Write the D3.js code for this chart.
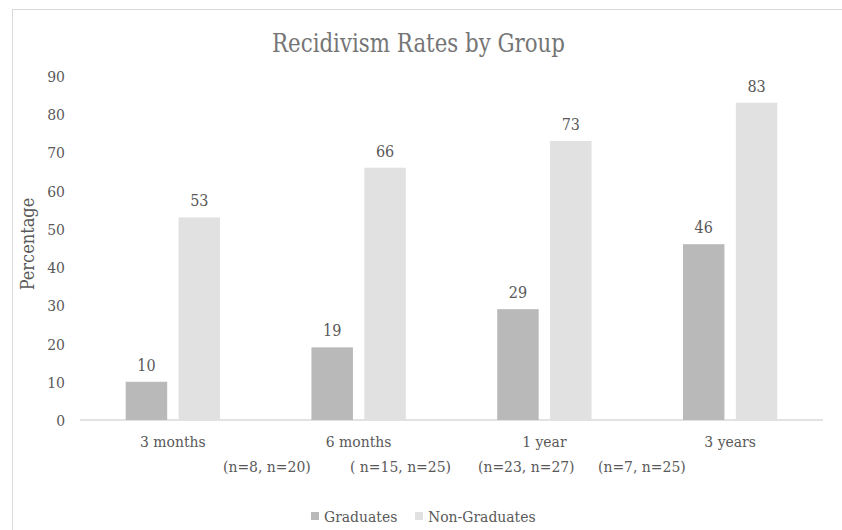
<!DOCTYPE html>
<html>
<head>
<meta charset="utf-8">
<script src="https://cdn.jsdelivr.net/npm/d3@7"></script>
<style>
body { margin: 0; background: #fff; }
svg text { font-family: "DejaVu Serif Condensed", "DejaVu Serif", serif; fill: #595959; }
</style>
</head>
<body>
<svg id="SvgContainer"></svg>
<script>
var categories = ["3 months", "6 months", "1 year", "3 years"];
var seriesNames = ["Graduates", "Non-Graduates"];
var graduates = [10, 19, 29, 46];
var nonGraduates = [53, 66, 73, 83];
var sampleLabels = ["(n=8, n=20)", "( n=15, n=25)", "(n=23, n=27)", "(n=7, n=25)"];
var yTicks = [0, 10, 20, 30, 40, 50, 60, 70, 80, 90];

function RunChart() {
    var width = 842;
    var height = 530;
    var colors = ["#b9b9b9", "#e1e1e1"];
    var labelSize = "15.5px";

    var svg = d3.select("svg")
        .attr("width", width)
        .attr("height", height);

    // chart area border
    svg.append("rect")
        .attr("x", 12.5)
        .attr("y", 9.5)
        .attr("width", 900)
        .attr("height", 600)
        .attr("fill", "none")
        .attr("stroke", "#d9d9d9");

    var x = d3.scaleBand()
        .domain(categories)
        .range([80, 823]);

    var xInner = d3.scaleBand()
        .domain(seriesNames)
        .range([45.7, x.bandwidth() - 45.7])
        .paddingInner(0.2155);

    var y = d3.scaleLinear()
        .domain([0, 90])
        .range([420, 76]);

    svg.append("text")
        .attr("x", 272)
        .attr("y", 52)
        .attr("textLength", 293)
        .attr("lengthAdjust", "spacingAndGlyphs")
        .style("font-size", "26px")
        .style("fill", "#757575")
        .text("Recidivism Rates by Group");

    // y tick labels
    svg.selectAll(".YTick")
        .data(yTicks)
        .enter()
        .append("text")
        .attr("class", "YTick")
        .attr("x", 65)
        .attr("y", function (d) { return y(d) + 6; })
        .attr("text-anchor", "end")
        .style("font-size", labelSize)
        .text(function (d) { return d; });

    svg.append("text")
        .attr("transform", "translate(34," + (y(45) - 4) + ") rotate(-90)")
        .attr("text-anchor", "middle")
        .style("font-size", "18px")
        .text("Percentage");

    // axis line
    svg.append("line")
        .attr("x1", x.range()[0])
        .attr("x2", x.range()[1])
        .attr("y1", y(0))
        .attr("y2", y(0))
        .attr("stroke", "#d9d9d9")
        .attr("stroke-width", 1.5);

    var rows = categories.map(function (c, i) {
        return { cat: c, values: [graduates[i], nonGraduates[i]] };
    });

    var groups = svg.selectAll(".DataGroup")
        .data(rows)
        .enter()
        .append("g")
        .attr("class", "DataGroup")
        .attr("transform", function (d) { return "translate(" + x(d.cat) + ",0)"; });

    groups.selectAll("rect")
        .data(function (d) { return d.values; })
        .enter()
        .append("rect")
        .attr("x", function (d, i) { return xInner(seriesNames[i]); })
        .attr("y", function (d) { return y(d); })
        .attr("width", xInner.bandwidth())
        .attr("height", function (d) { return y(0) - y(d); })
        .attr("fill", function (d, i) { return colors[i]; });

    groups.selectAll(".ValueText")
        .data(function (d) { return d.values; })
        .enter()
        .append("text")
        .attr("class", "ValueText")
        .attr("x", function (d, i) { return xInner(seriesNames[i]) + xInner.bandwidth() / 2; })
        .attr("y", function (d) { return y(d) - 11; })
        .attr("text-anchor", "middle")
        .style("font-size", "16px")
        .text(function (d) { return d; });

    groups.append("text")
        .attr("x", x.bandwidth() / 2)
        .attr("y", 447)
        .attr("text-anchor", "middle")
        .style("font-size", labelSize)
        .text(function (d) { return d.cat; });

    // second row of category labels (sample sizes), wrapped the way the original did
    var sampleLabelX = [223, 350, 478, 598];
    svg.selectAll(".SampleText")
        .data(sampleLabels)
        .enter()
        .append("text")
        .attr("class", "SampleText")
        .attr("x", function (d, i) { return sampleLabelX[i]; })
        .attr("y", 472)
        .style("font-size", labelSize)
        .text(function (d) { return d; });

    // legend
    var legend = svg.append("g")
        .attr("transform", "translate(311,512)");
    var legendX = [0, 104];
    seriesNames.forEach(function (s, i) {
        legend.append("rect")
            .attr("x", legendX[i])
            .attr("y", 0)
            .attr("width", 8)
            .attr("height", 8)
            .attr("fill", colors[i]);
        legend.append("text")
            .attr("x", legendX[i] + 13)
            .attr("y", 10)
            .style("font-size", labelSize)
            .text(s);
    });
}

RunChart();
</script>
</body>
</html>
